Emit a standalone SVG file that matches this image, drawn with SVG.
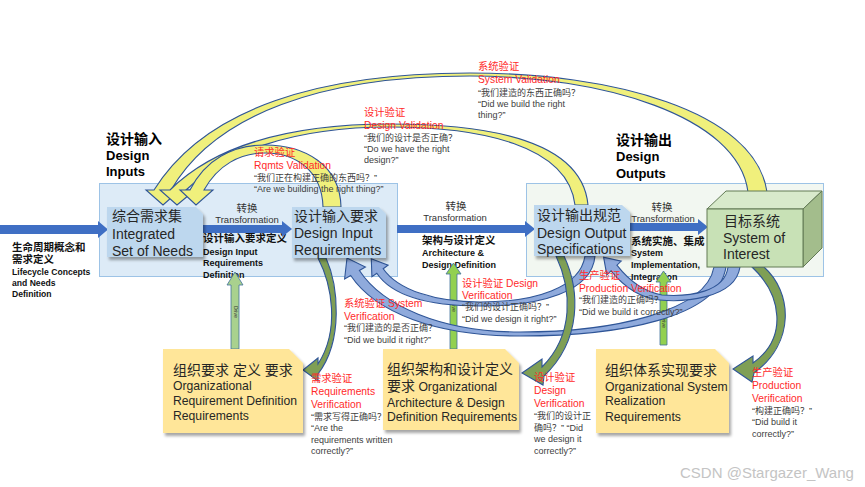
<svg xmlns="http://www.w3.org/2000/svg" width="865" height="487" viewBox="0 0 865 487">
<defs>
<style>
text{font-family:"Liberation Sans","Noto Sans CJK SC",sans-serif}
.panel1{fill:#ddebf7;stroke:#9dc3e6;stroke-width:1}
.panel2{fill:#f2f7f1;stroke:#9dc3e6;stroke-width:1}
.node{fill:#bdd7ee;filter:url(#sh)}
.note{fill:#ffe699;filter:url(#sh)}
.flow{fill:#3f6fc4}
.yel{fill:#f0f07c;stroke:#2f5597;stroke-width:1.1}
.blu{fill:#8faadc;stroke:#2f5597;stroke-width:1.1}
.grn{fill:#7f9f55;stroke:#2f5597;stroke-width:1.1}
.drive{fill:#92d050;stroke:#41719c;stroke-width:0.8}
.drive2{fill:#a9d18e;stroke:#41719c;stroke-width:0.8}
.dtx{font-size:5px;fill:#333}
.tn{font-size:14px;fill:#262626}
.ty{font-size:12.2px;fill:#262626}
.tyc{font-size:14px}
.tt{font-size:13px;font-weight:bold;fill:#000}
.ttc{font-size:14px}
.tl{font-size:9px;font-weight:bold;fill:#111}
.tlc{font-size:10.5px}
.tr{font-size:9.5px;fill:#333}
.trc{font-size:10.5px}
.red{font-size:10.3px;fill:#ff2a2a}
.gry{font-size:9px;fill:#404040}
.wm{font-size:15px;fill:#c4c4c4}
</style>
<filter id="sh" x="-10%" y="-10%" width="130%" height="140%">
<feDropShadow dx="2" dy="3" stdDeviation="1.5" flood-color="#000" flood-opacity="0.35"/>
</filter>
</defs>
<rect width="865" height="487" fill="#fff"/>

<g id="panel-inputs">
<rect class="panel1" x="99.5" y="183.5" width="298" height="93"/>
<text class="tt" x="106" y="144"><tspan class="ttc">设计输入</tspan></text>
<text class="tt" x="106" y="160">Design</text>
<text class="tt" x="106" y="176">Inputs</text>
</g>
<g id="panel-outputs">
<rect class="panel2" x="526.5" y="183.5" width="297" height="93"/>
<text class="tt" x="616" y="145"><tspan class="ttc">设计输出</tspan></text>
<text class="tt" x="616" y="161">Design</text>
<text class="tt" x="616" y="178">Outputs</text>
</g>

<g id="flow-labels">
<text class="tl" x="12" y="251"><tspan class="tlc">生命周期概念和</tspan></text>
<text class="tl" x="12" y="263"><tspan class="tlc">需求定义</tspan></text>
<text class="tl" x="12" y="275" style="font-size:8.6px">Lifecycle Concepts</text>
<text class="tl" x="12" y="286" style="font-size:8.6px">and Needs</text>
<text class="tl" x="12" y="297" style="font-size:8.6px">Definition</text>

<text class="tr" x="247" y="212" text-anchor="middle"><tspan class="trc">转换</tspan></text>
<text class="tr" x="247" y="223" text-anchor="middle">Transformation</text>
<text class="tl" x="203" y="242"><tspan class="tlc">设计输入要求定义</tspan></text>
<text class="tl" x="203" y="255">Design Input</text>
<text class="tl" x="203" y="266">Requirements</text>
<text class="tl" x="203" y="278">Definition</text>

<text class="tr" x="456" y="210" text-anchor="middle"><tspan class="trc">转换</tspan></text>
<text class="tr" x="455" y="221" text-anchor="middle">Transformation</text>
<text class="tl" x="422" y="244"><tspan class="tlc">架构与设计定义</tspan></text>
<text class="tl" x="422" y="256">Architecture &amp;</text>
<text class="tl" x="422" y="268">Design Definition</text>

<text class="tr" x="662" y="211" text-anchor="middle"><tspan class="trc">转换</tspan></text>
<text class="tr" x="663" y="222" text-anchor="middle">Transformation</text>
<text class="tl" x="631" y="245"><tspan class="tlc">系统实施、集成</tspan></text>
<text class="tl" x="631" y="256">System</text>
<text class="tl" x="631" y="268">Implementation,</text>
<text class="tl" x="631" y="280">Integration</text>

<text class="wm" x="680" y="478">CSDN @Stargazer_Wang</text>
</g>

<g id="connectors">
<polygon class="flow" points="0,225 98,225 98,221 108,229.5 98,238 98,234 0,234"/>
<polygon class="flow" points="203,225 282,225 282,221 292,229 282,237 282,233 203,233"/>
<polygon class="flow" points="397,225 525,225 525,221 535,229 525,237 525,233 397,233"/>
<polygon class="flow" points="630,223 698,223 698,219 708,227 698,235 698,231 630,231"/>

<polygon class="drive2" points="231,349 231,285 227,285 235,272 243,285 239,285 239,349"/>
<text class="dtx" transform="translate(233.5,306) rotate(90)">Drive</text>
<polygon class="drive" points="450,349 450,274 446,274 453.5,263 461,274 457,274 457,349"/>
<text class="dtx" transform="translate(452,300) rotate(90)">Drive</text>
<polygon class="drive" points="660,345 660,282 656,282 663.5,271 671,282 667,282 667,345"/>
<text class="dtx" transform="translate(662,316) rotate(90)">Drive</text>

<path class="yel" d="M767 192 C755 110 610 73 470 73 C320 73 205 108 154 190 L146 190 L163 205 L180 190 L171 190 C215 114 322 76 470 76 C600 76 738 115 748 192 Z"/>
<path class="yel" d="M588 205 C582 140 490 124 390 124 C285 124 212 148 170 190 L160 190 L177 205 L195 190 L186 190 C225 153 290 127 390 127 C480 127 568 145 575 205 Z"/>
<path class="yel" d="M341 207 C340 165 305 145 265 145 C232 145 205 160 190 190 L180 190 L196 205 L213 190 L204 190 C218 165 240 153 265 153 C295 153 322 170 323 207 Z"/>

<path class="blu" d="M726 267 C718 318 620 336 520 336 C435 336 375 312 350.7 275.5 L344.6 278.9 L347 258 L365.4 267.1 L359.4 270.5 C382 305 440 332 520 332 C612 332 706 312 714 267 Z"/>
<path class="blu" d="M595 256 C592 292 540 306 480 306 C430 306 392 296 376.8 273.3 L371.9 276.8 L371.3 258.8 L388.1 265.2 L383.2 268.7 C398 290 435 302 480 302 C535 302 580 288 585 256 Z"/>
<path class="blu" d="M740 267 C735 300 680 302 660 300 C640 298 625 288 611.1 270.8 L606.8 274.9 L603.6 257.2 L621.2 261.1 L616.9 265.2 C630 282 645 292 662 295 C690 297 725 292 728 267 Z"/>

<path class="grn" d="M318 258 C332 285 340 330 318 364 L318 358 L303 370 L318 381 L318 374 C344 340 338 285 326 258 Z"/>
<path class="grn" d="M556 256 C572 290 574 335 542 367 L542 359 L522 373 L543 385 L544 376 C582 340 580 290 564 256 Z"/>
<path class="grn" d="M752 267 C782 295 788 338 753 363 L753 356 L733 369 L752 382 L754 373 C796 342 792 292 764 267 Z"/>
</g>

<g id="annotations">
<text class="red" x="478" y="70">系统验证</text>
<text class="red" x="478" y="83">System Validation</text>
<text class="gry" x="478" y="96">“我们建造的东西正确吗？</text>
<text class="gry" x="478" y="107">“Did we build the right</text>
<text class="gry" x="478" y="118">thing?”</text>

<text class="red" x="364" y="116">设计验证</text>
<text class="red" x="364" y="129">Design Validation</text>
<text class="gry" x="364" y="141">“我们的设计是否正确？</text>
<text class="gry" x="364" y="152">“Do we have the right</text>
<text class="gry" x="364" y="163">design?”</text>

<text class="red" x="254" y="156">请求验证</text>
<text class="red" x="254" y="169">Rqmts Validation</text>
<text class="gry" x="254" y="181">“我们正在构建正确的东西吗？”</text>
<text class="gry" x="254" y="192">“Are we building the right thing?”</text>

<text class="red" x="344" y="307">系统验证 System</text>
<text class="red" x="344" y="320">Verification</text>
<text class="gry" x="344" y="331">“我们建造的是否正确？</text>
<text class="gry" x="344" y="343">“Did we build it right?”</text>

<text class="red" x="462" y="287">设计验证 Design</text>
<text class="red" x="462" y="299">Verification</text>
<text class="gry" x="462" y="310">“我们的设计正确吗？”</text>
<text class="gry" x="462" y="322">“Did we design it right?”</text>

<text class="red" x="579" y="279">生产验证</text>
<text class="red" x="579" y="292">Production Verification</text>
<text class="gry" x="579" y="303">“我们建造的正确吗？</text>
<text class="gry" x="579" y="315">“Did we build it correctly?”</text>

<text class="red" x="311" y="382">需求验证</text>
<text class="red" x="311" y="395">Requirements</text>
<text class="red" x="311" y="408">Verification</text>
<text class="gry" x="311" y="420">“需求写得正确吗？</text>
<text class="gry" x="311" y="431">“Are the</text>
<text class="gry" x="311" y="443">requirements written</text>
<text class="gry" x="311" y="454">correctly?”</text>

<text class="red" x="534" y="381">设计验证</text>
<text class="red" x="534" y="394">Design</text>
<text class="red" x="534" y="407">Verification</text>
<text class="gry" x="534" y="419">“我们的设计正</text>
<text class="gry" x="534" y="431">确吗？” “Did</text>
<text class="gry" x="534" y="442">we design it</text>
<text class="gry" x="534" y="454">correctly?”</text>

<text class="red" x="752" y="376">生产验证</text>
<text class="red" x="752" y="389">Production</text>
<text class="red" x="752" y="402">Verification</text>
<text class="gry" x="752" y="414">“构建正确吗？”</text>
<text class="gry" x="752" y="425">“Did build it</text>
<text class="gry" x="752" y="437">correctly?”</text>
</g>

<g id="node-needs">
<path class="node" d="M107 207 L196 207 L203 214 L203 257 L107 257 Z"/>
<text class="tn" x="112" y="221">综合需求集</text>
<text class="tn" x="112" y="239">Integrated</text>
<text class="tn" x="112" y="256">Set of Needs</text>
</g>
<g id="node-dir">
<path class="node" d="M292 207 L379 207 L386 214 L386 258 L292 258 Z"/>
<text class="tn" x="294" y="221">设计输入要求</text>
<text class="tn" x="294" y="238">Design Input</text>
<text class="tn" x="294" y="255">Requirements</text>
</g>
<g id="node-dos">
<path class="node" d="M534 205 L622 205 L630 212 L630 256 L534 256 Z"/>
<text class="tn" x="537" y="220">设计输出规范</text>
<text class="tn" x="537" y="238">Design Output</text>
<text class="tn" x="537" y="254">Specifications</text>
</g>
<g id="node-soi">
<polygon points="707,209 726,191 822,191 803,209" fill="#d8eacb" stroke="#627a55" stroke-width="1"/>
<polygon points="803,209 822,191 822,248 803,267" fill="#a3bd8c" stroke="#627a55" stroke-width="1"/>
<rect x="707" y="209" width="96" height="58" fill="#c8e1b6" stroke="#627a55" stroke-width="1"/>
<text class="tn" x="724" y="226">目标系统</text>
<text class="tn" x="723" y="243">System of</text>
<text class="tn" x="723" y="259">Interest</text>
</g>

<g id="note-org-req">
<path class="note" d="M163 349 L289 349 L303 363 L303 433 L163 433 Z"/>
<text class="ty" x="173" y="375"><tspan class="tyc">组织要求 定义 要求</tspan></text>
<text class="ty" x="173" y="390">Organizational</text>
<text class="ty" x="173" y="405">Requirement Definition</text>
<text class="ty" x="173" y="420">Requirements</text>
</g>
<g id="note-org-arch">
<path class="note" d="M383 349 L505 349 L519 363 L519 430 L383 430 Z"/>
<text class="ty" x="387" y="374"><tspan class="tyc">组织架构和设计定义</tspan></text>
<text class="ty" x="387" y="391"><tspan class="tyc">要求</tspan> Organizational</text>
<text class="ty" x="387" y="407">Architecture &amp; Design</text>
<text class="ty" x="387" y="421">Definition Requirements</text>
</g>
<g id="note-org-real">
<path class="note" d="M596 349 L715 349 L729 363 L729 433 L596 433 Z"/>
<text class="ty" x="605" y="375"><tspan class="tyc">组织体系实现要求</tspan></text>
<text class="ty" x="605" y="391">Organizational System</text>
<text class="ty" x="605" y="405">Realization</text>
<text class="ty" x="605" y="421">Requirements</text>
</g>
</svg>
